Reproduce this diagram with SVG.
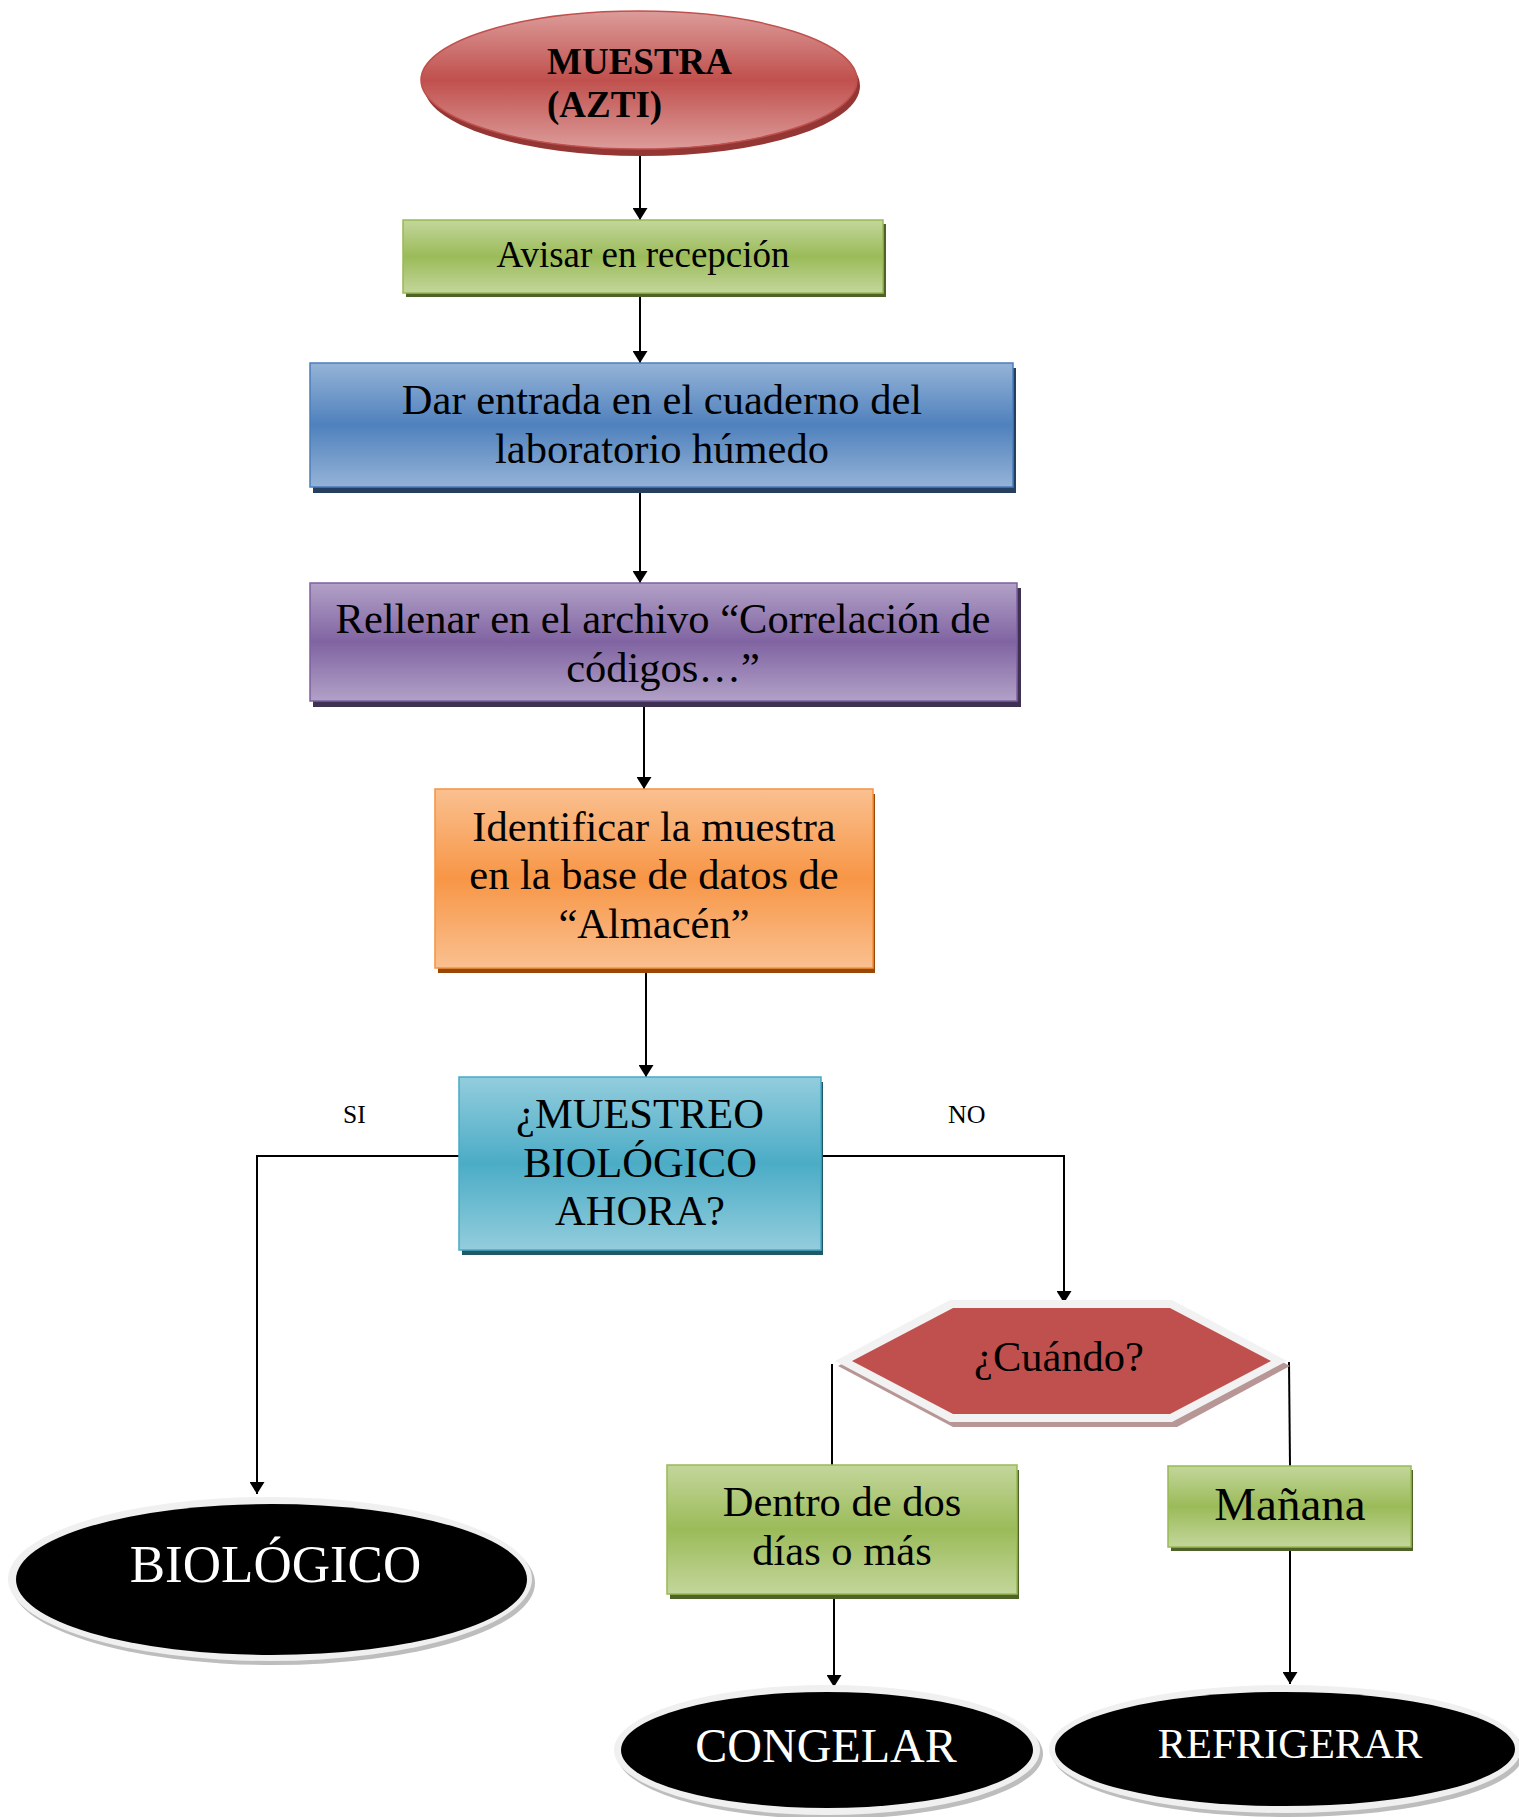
<svg xmlns="http://www.w3.org/2000/svg" width="1519" height="1817" viewBox="0 0 1519 1817">
<style>
text{font-family:"Liberation Serif","Times New Roman",serif;fill:#000}
.t42{font-size:42.5px;text-anchor:middle}
.w{fill:#fff;text-anchor:middle}
.conn{stroke:#000;stroke-width:2;fill:none}
.ring{fill:#F0F0F0}
.eshadow{fill:#BDBDBD}
</style>
<defs>
<marker id="arr" viewBox="0 0 12 15" refX="12" refY="7.5" markerWidth="12" markerHeight="15" markerUnits="userSpaceOnUse" orient="auto">
<path d="M0,0 L12,7.5 L0,15 z" fill="#000"/>
</marker>
<linearGradient id="gRed" x1="0" y1="0" x2="0" y2="1">
<stop offset="0" stop-color="#DC9C9A"/><stop offset="0.5" stop-color="#C0504D"/><stop offset="1" stop-color="#DC9C9A"/>
</linearGradient>
<linearGradient id="gGreen" x1="0" y1="0" x2="0" y2="1">
<stop offset="0" stop-color="#C3D69B"/><stop offset="0.5" stop-color="#9BBB59"/><stop offset="1" stop-color="#C3D69B"/>
</linearGradient>
<linearGradient id="gBlue" x1="0" y1="0" x2="0" y2="1">
<stop offset="0" stop-color="#95B3D7"/><stop offset="0.5" stop-color="#4F81BD"/><stop offset="1" stop-color="#95B3D7"/>
</linearGradient>
<linearGradient id="gPurple" x1="0" y1="0" x2="0" y2="1">
<stop offset="0" stop-color="#B2A1C7"/><stop offset="0.5" stop-color="#8064A2"/><stop offset="1" stop-color="#B2A1C7"/>
</linearGradient>
<linearGradient id="gOrange" x1="0" y1="0" x2="0" y2="1">
<stop offset="0" stop-color="#FAC090"/><stop offset="0.5" stop-color="#F79646"/><stop offset="1" stop-color="#FAC090"/>
</linearGradient>
<linearGradient id="gCyan" x1="0" y1="0" x2="0" y2="1">
<stop offset="0" stop-color="#93CDDD"/><stop offset="0.5" stop-color="#4BACC6"/><stop offset="1" stop-color="#93CDDD"/>
</linearGradient>
</defs>
<rect width="1519" height="1817" fill="#fff"/>

<g id="connectors">
<line class="conn" x1="640" y1="155" x2="640" y2="220" marker-end="url(#arr)"/>
<line class="conn" x1="640" y1="297" x2="640" y2="363" marker-end="url(#arr)"/>
<line class="conn" x1="640" y1="493" x2="640" y2="583" marker-end="url(#arr)"/>
<line class="conn" x1="644" y1="707" x2="644" y2="789" marker-end="url(#arr)"/>
<line class="conn" x1="646" y1="973" x2="646" y2="1077" marker-end="url(#arr)"/>
<polyline class="conn" points="459,1156 257,1156 257,1494" marker-end="url(#arr)"/>
<polyline class="conn" points="821,1156 1064,1156 1064,1303" marker-end="url(#arr)"/>
<line class="conn" x1="832" y1="1364" x2="832" y2="1466"/>
<line class="conn" x1="1289" y1="1362" x2="1290" y2="1466"/>
<line class="conn" x1="834" y1="1599" x2="834" y2="1687" marker-end="url(#arr)"/>
<line class="conn" x1="1290" y1="1551" x2="1290" y2="1684" marker-end="url(#arr)"/>
</g>

<g id="muestra">
<ellipse cx="642" cy="86" rx="218" ry="70" fill="#943634"/>
<ellipse cx="639" cy="80" rx="218" ry="69" fill="url(#gRed)" stroke="#C0504D" stroke-width="1.5"/>
<text x="547" y="74" font-size="37" font-weight="bold">MUESTRA</text>
<text x="547" y="117" font-size="37" font-weight="bold">(AZTI)</text>
</g>

<g id="avisar">
<rect x="406" y="224" width="480" height="73" fill="#4F6228"/>
<rect x="403" y="220" width="480" height="73" fill="url(#gGreen)" stroke="#98B954" stroke-width="1.5"/>
<text x="643" y="267" font-size="37" text-anchor="middle">Avisar en recepción</text>
</g>

<g id="dar-entrada">
<rect x="313" y="368" width="703" height="125" fill="#243F60"/>
<rect x="310" y="363" width="703" height="124" fill="url(#gBlue)" stroke="#4A7EBB" stroke-width="1.5"/>
<text class="t42" x="662" y="414">Dar entrada en el cuaderno del</text>
<text class="t42" x="662" y="463">laboratorio húmedo</text>
</g>

<g id="rellenar">
<rect x="313" y="588" width="708" height="119" fill="#3F3151"/>
<rect x="310" y="583" width="707" height="118" fill="url(#gPurple)" stroke="#7D60A0" stroke-width="1.5"/>
<text class="t42" x="663" y="633">Rellenar en el archivo “Correlación de</text>
<text class="t42" x="663" y="682">códigos…”</text>
</g>

<g id="identificar">
<rect x="438" y="794" width="437" height="179" fill="#984807"/>
<rect x="435" y="789" width="438" height="179" fill="url(#gOrange)" stroke="#F69240" stroke-width="1.5"/>
<text class="t42" x="654" y="841">Identificar la muestra</text>
<text class="t42" x="654" y="889">en la base de datos de</text>
<text class="t42" x="654" y="938">“Almacén”</text>
</g>

<g id="muestreo">
<rect x="462" y="1082" width="361" height="173" fill="#205867"/>
<rect x="459" y="1077" width="362" height="173" fill="url(#gCyan)" stroke="#46AAC5" stroke-width="1.5"/>
<text class="t42" x="640" y="1128">¿MUESTREO</text>
<text class="t42" x="640" y="1177">BIOLÓGICO</text>
<text class="t42" x="640" y="1225">AHORA?</text>
</g>

<g id="label-si"><text x="343" y="1123" font-size="25.5">SI</text></g>
<g id="label-no"><text x="948" y="1123" font-size="26">NO</text></g>

<g id="cuando">
<polygon points="838,1366 953,1305 1175,1305 1290,1366 1177,1427 953,1427" fill="#B89696"/>
<polygon points="835,1361 950,1300 1172,1300 1287,1361 1172,1422 950,1422" fill="#F2F2F2"/>
<polygon points="852,1361 953,1308 1170,1308 1271,1361 1170,1414 953,1414" fill="#C0504D"/>
<text class="t42" x="1059" y="1371">¿Cuándo?</text>
</g>

<g id="dentro">
<rect x="670" y="1470" width="349" height="129" fill="#4F6228"/>
<rect x="667" y="1465" width="350" height="129" fill="url(#gGreen)" stroke="#98B954" stroke-width="1.5"/>
<text class="t42" x="842" y="1516">Dentro de dos</text>
<text class="t42" x="842" y="1565">días o más</text>
</g>

<g id="manana">
<rect x="1171" y="1470" width="242" height="81" fill="#4F6228"/>
<rect x="1168" y="1466" width="243" height="81" fill="url(#gGreen)" stroke="#98B954" stroke-width="1.5"/>
<text x="1290" y="1520" font-size="47" text-anchor="middle">Mañana</text>
</g>

<g id="biologico">
<ellipse class="eshadow" cx="273" cy="1583" rx="262" ry="82"/>
<ellipse class="ring" cx="270" cy="1579" rx="262" ry="82"/>
<ellipse cx="271.5" cy="1579.5" rx="255.5" ry="75.5" fill="#000"/>
<text class="w" x="275.5" y="1582" font-size="53">BIOLÓGICO</text>
</g>

<g id="congelar">
<ellipse class="eshadow" cx="830" cy="1754" rx="213" ry="65"/>
<ellipse class="ring" cx="827" cy="1750" rx="213" ry="65"/>
<ellipse cx="827" cy="1750" rx="206" ry="58" fill="#000"/>
<text class="w" x="826" y="1761.5" font-size="48">CONGELAR</text>
</g>

<g id="refrigerar">
<ellipse class="eshadow" cx="1288" cy="1753" rx="236" ry="64"/>
<ellipse class="ring" cx="1285" cy="1749" rx="236" ry="64"/>
<ellipse cx="1285" cy="1749" rx="230" ry="57" fill="#000"/>
<text class="w" x="1290" y="1758" font-size="42.5">REFRIGERAR</text>
</g>
</svg>
